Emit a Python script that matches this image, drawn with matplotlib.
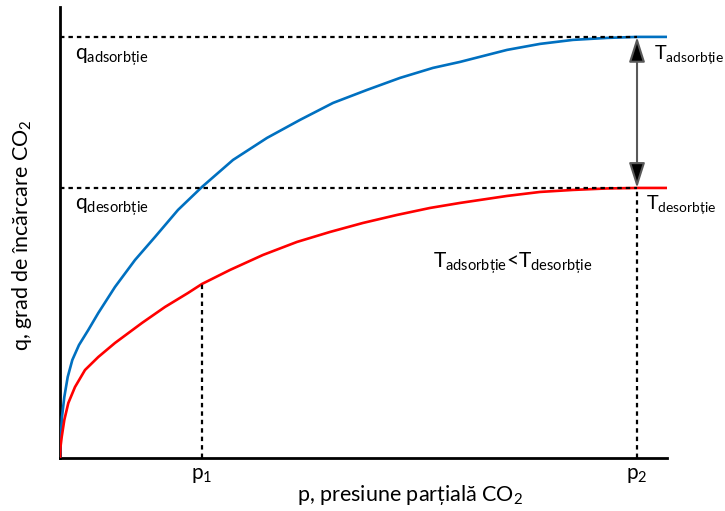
import matplotlib.pyplot as plt

plt.rcParams['font.family'] = ['Lato', 'DejaVu Sans']
plt.rcParams['mathtext.fontset'] = 'custom'
plt.rcParams['mathtext.rm'] = 'Lato'
plt.rcParams['mathtext.it'] = 'Lato:italic'

# izoterma la T adsorbtie (p, q in unitati relative)
p_ads = [0, 0.12, 0.33, 0.71, 1.27, 2.03, 3.13, 4.66, 6.31, 9.06, 12.36, 15.65, 19.44, 23.39,
         28.50, 34.10, 39.54, 44.98, 50.58, 56.01, 61.45, 65.90, 73.64, 79.08, 84.51, 90.12,
         95.06, 100]
q_ads_curve = [0, 4.99, 9.74, 14.49, 19.24, 23.28, 26.84, 30.40, 34.44, 40.62, 47.03, 52.49,
               58.91, 64.37, 70.78, 76.01, 80.29, 84.32, 87.41, 90.26, 92.64, 94.06, 96.91,
               98.34, 99.29, 99.76, 100, 100]

# izoterma la T desorbtie
p_des = [0, 0.08, 0.28, 0.71, 1.37, 2.47, 4.12, 6.31, 9.06, 13.51, 17.30, 21.09, 23.39,
         28.01, 33.44, 39.04, 44.48, 49.92, 55.52, 60.96, 65.90, 73.64, 79.08, 84.51,
         90.12, 95.06, 100]
q_des_curve = [0, 2.61, 4.99, 9.03, 13.06, 16.86, 20.90, 23.99, 27.32, 32.07, 35.87, 39.19,
               41.33, 44.66, 48.22, 51.31, 53.68, 55.82, 57.72, 59.38, 60.57, 62.23, 63.18,
               63.66, 64.01, 64.13, 64.13]

p1, p2 = 23.39, 95.06
q1 = 41.33
q_ads_lvl, q_des_lvl = 100, 64.13

fig = plt.figure(figsize=(7.25, 5.11), dpi=100)
ax = fig.add_axes([60 / 725, 53 / 511, 607 / 725, 451 / 511])
ax.set_xlim(0, 100)
ax.set_ylim(0, 107.1)

ax.plot(p_ads, q_ads_curve, color='#0070C0', lw=1.9, zorder=3)
ax.plot(p_des, q_des_curve, color='#FF0000', lw=1.9, zorder=3)

dash = dict(color='black', lw=1.6, linestyle=(0, (2, 1.8)), zorder=4)
ax.plot([0, p2], [q_ads_lvl, q_ads_lvl], **dash)
ax.plot([0, p2], [q_des_lvl, q_des_lvl], **dash)
ax.plot([p1, p1], [0, q1], **dash)
ax.plot([p2, p2], [0, q_des_lvl], **dash)

ax.annotate('', xy=(p2, q_ads_lvl), xytext=(p2, q_des_lvl),
            arrowprops=dict(arrowstyle='<|-|>,head_length=1.1,head_width=0.35',
                            fc='black', ec='#595959', lw=1.5, mutation_scale=14,
                            shrinkA=0, shrinkB=0), zorder=5)

fs = 15
ax.text(2.5, 95.2, 'q$_{\\mathrm{adsorbție}}$', fontsize=fs, va='center')
ax.text(2.5, 59.6, 'q$_{\\mathrm{desorbție}}$', fontsize=fs, va='center')
ax.text(97.9, 95.8, 'T$_{\\mathrm{adsorbție}}$', fontsize=14.2, va='center')
ax.text(96.6, 60.3, 'T$_{\\mathrm{desorbție}}$', fontsize=14.2, va='center')
ax.text(61.5, 46.3, 'T$_{\\mathrm{adsorbție}}$<T$_{\\mathrm{desorbție}}$', fontsize=fs, va='center')

for s in ['top', 'right']:
    ax.spines[s].set_visible(False)
for s in ['left', 'bottom']:
    ax.spines[s].set_linewidth(2)
ax.set_yticks([])
ax.set_xticks([p1, p2])
ax.set_xticklabels(['p$_1$', 'p$_2$'], fontsize=fs)
ax.tick_params(axis='x', length=0, pad=5)

fig.text(410 / 725, 1 - 495 / 511, 'p, presiune parțială CO$_2$', fontsize=15.5,
         ha='center', va='center')
fig.text(22 / 725, 1 - 235 / 511, 'q, grad de încărcare CO$_2$', fontsize=15.5,
         ha='center', va='center', rotation=90)

fig.savefig('out.png', dpi=100)
